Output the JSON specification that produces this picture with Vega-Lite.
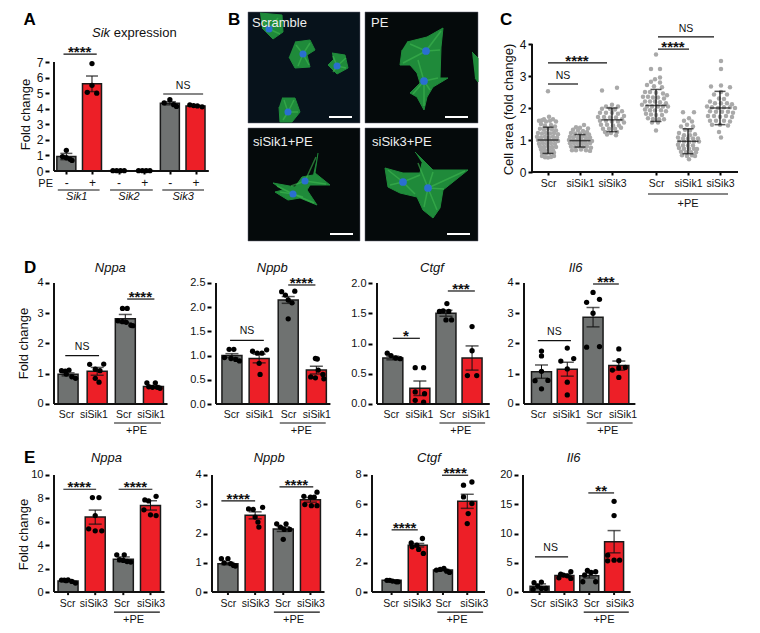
{"$schema":"https://vega.github.io/schema/vega-lite/v6.json","autosize":{"type":"pad"},"padding":{"left":17,"top":10,"right":0,"bottom":0},"background":"white",
"config":{"font":"Liberation Sans","view":{"stroke":null},"axis":{"grid":false,"domain":false,"tickColor":"#000","tickWidth":2,"tickSize":4,"labelColor":"#111","labelFontSize":11,"labelPadding":2,"titleFontSize":13,"titleFontWeight":"normal","titleColor":"#111","labelFlush":false,"labelOverlap":false,"labelBound":false,"titleBaseline":"middle","titleAngle":-90},"bar":{"stroke":"#1a1a1a","strokeWidth":1.5},"point":{"filled":true,"color":"#000","size":28,"opacity":1},"rule":{"color":"#111","strokeWidth":1},"text":{"fontSize":10.5,"color":"#111"},"tick":{"color":"#111","thickness":1.5}},
"datasets":{
"ab":[{"x":13,"y":0.93,"e":0.2,"g":"ctrl"},{"x":40,"y":5.6,"e":0.5,"g":"si"},{"x":68,"y":0.02,"e":0.01,"g":"ctrl"},{"x":95,"y":0.02,"e":0.01,"g":"si"},{"x":122,"y":4.35,"e":0.1,"g":"ctrl"},{"x":149,"y":4.18,"e":0.03,"g":"si"}],
"d1b":[{"x":15,"y":0.98,"e":0.05,"g":"ctrl"},{"x":46,"y":1.08,"e":0.13,"g":"si"},{"x":76,"y":2.82,"e":0.14,"g":"ctrl"},{"x":106,"y":0.58,"e":0.03,"g":"si"}],
"d2b":[{"x":17,"y":1.0,"e":0.04,"g":"ctrl"},{"x":46,"y":0.94,"e":0.09,"g":"si"},{"x":77,"y":2.15,"e":0.07,"g":"ctrl"},{"x":107,"y":0.7,"e":0.08,"g":"si"}],
"d3b":[{"x":17,"y":0.76,"e":0.03,"g":"ctrl"},{"x":46,"y":0.26,"e":0.12,"g":"si"},{"x":74,"y":1.5,"e":0.05,"g":"ctrl"},{"x":102,"y":0.76,"e":0.2,"g":"si"}],
"d4b":[{"x":19,"y":1.07,"e":0.22,"g":"ctrl"},{"x":47,"y":1.15,"e":0.23,"g":"si"},{"x":75,"y":2.87,"e":0.32,"g":"ctrl"},{"x":103,"y":1.27,"e":0.15,"g":"si"}],
"e1b":[{"x":15,"y":0.95,"e":0.04,"g":"ctrl"},{"x":44,"y":6.4,"e":0.6,"g":"si"},{"x":74,"y":2.8,"e":0.2,"g":"ctrl"},{"x":103,"y":7.4,"e":0.4,"g":"si"}],
"e2b":[{"x":17,"y":0.97,"e":0.04,"g":"ctrl"},{"x":46,"y":2.62,"e":0.12,"g":"si"},{"x":76,"y":2.15,"e":0.08,"g":"ctrl"},{"x":105,"y":3.15,"e":0.08,"g":"si"}],
"e3b":[{"x":21,"y":0.8,"e":0.02,"g":"ctrl"},{"x":49,"y":3.2,"e":0.12,"g":"si"},{"x":76,"y":1.5,"e":0.05,"g":"ctrl"},{"x":102,"y":6.2,"e":0.48,"g":"si"}],
"e4b":[{"x":18,"y":1.0,"e":0.4,"g":"ctrl"},{"x":45,"y":2.85,"e":0.2,"g":"si"},{"x":72,"y":2.8,"e":0.4,"g":"ctrl"},{"x":99,"y":8.6,"e":1.9,"g":"si"}]
},
"spacing":0,"bounds":"full","center":false,
"vconcat":[
{"spacing":0,"bounds":"flush","center":false,"hconcat":[
{"width":199,"height":238,"encoding":{"x":{"field":"x","type":"quantitative","scale":{"domain":[0,199],"nice":false},"axis":{"title":null,"values":[13,40,68,95,122,149],"labelExpr":"indexof([13,68,122],datum.value)>=0?'-':'+'","offset":-79,"tickSize":3,"labelPadding":3,"labelFontSize":12}},"y":{"field":"y","type":"quantitative","scale":{"domain":[-5.073,10.211],"nice":false},"axis":{"values":[0,1,2,3,4,5,6,7],"title":"Fold change","titleX":-24,"titleY":102,"labelFontSize":12}}},
"layer":[
{"data":{"name":"ab"},"mark":{"type":"bar","orient":"vertical","size":19},"encoding":{"color":{"field":"g","type":"nominal","scale":{"domain":["ctrl","si"],"range":["#6f7271","#ed1f27"]},"legend":null}}},
{"data":{"values":[{"x":0,"x2":163,"y":0,"y2":0},{"x":0,"x2":0,"y":0,"y2":7}]},"mark":{"type":"rule","strokeWidth":2},"encoding":{"x2":{"field":"x2"},"y2":{"field":"y2"}}},
{"data":{"name":"ab"},"mark":{"type":"errorbar","ticks":{"size":12,"color":"#111"},"rule":{"color":"#111"}},"encoding":{"yError":{"field":"e"}}},
{"data":{"values":[{"x":9,"y":0.93},{"x":13,"y":1.33},{"x":13,"y":0.85},{"x":17,"y":0.75},{"x":19,"y":0.68},{"x":40,"y":6.9},{"x":40,"y":5.5},{"x":35,"y":5.05},{"x":45,"y":5.0},{"x":62,"y":0.02},{"x":66,"y":0.02},{"x":70,"y":0.02},{"x":74,"y":0.02},{"x":89,"y":0.02},{"x":93,"y":0.02},{"x":97,"y":0.02},{"x":101,"y":0.02},{"x":116,"y":4.37},{"x":122,"y":4.58},{"x":126,"y":4.26},{"x":129,"y":4.15},{"x":143,"y":4.25},{"x":147,"y":4.2},{"x":151,"y":4.18},{"x":156,"y":4.12}]},"mark":{"type":"point"}},
{"data":{"values":[{"x":10,"x2":45,"y":7.51},{"x":115,"x2":157,"y":4.945},{"x":4,"x2":48,"y":-1.22},{"x":59,"x2":104,"y":-1.22},{"x":114,"x2":158,"y":-1.22}]},"mark":{"type":"rule","strokeWidth":1.2},"encoding":{"x2":{"field":"x2"}}},
{"data":{"values":[{"x":27,"y":7.51,"t":"****"}]},"mark":{"type":"text","fontSize":15,"fontWeight":"bold","dy":-2},"encoding":{"text":{"field":"t"}}},
{"data":{"values":[{"x":136,"y":4.945,"t":"NS"}]},"mark":{"type":"text","dy":-8},"encoding":{"text":{"field":"t"}}},
{"data":{"values":[{"x":24,"y":-1.67,"t":"Sik1"},{"x":79,"y":-1.67,"t":"Sik2"},{"x":136,"y":-1.67,"t":"Sik3"}]},"mark":{"type":"text","fontStyle":"italic","fontSize":11},"encoding":{"text":{"field":"t"}}},
{"data":{"values":[{"x":-1,"y":-0.82,"t":"PE"}]},"mark":{"type":"text","align":"right","fontSize":11},"encoding":{"text":{"field":"t"}}},
{"data":{"values":[{"x":40,"y":8.86,"t":"Sik"}]},"mark":{"type":"text","align":"left","fontStyle":"italic","fontSize":13},"encoding":{"text":{"field":"t"}}},
{"data":{"values":[{"x":63,"y":8.86,"t":"expression"}]},"mark":{"type":"text","align":"left","fontSize":13},"encoding":{"text":{"field":"t"}}},
{"data":{"values":[{"x":-32,"y":9.7,"t":"A"}]},"mark":{"type":"text","align":"left","fontSize":17,"fontWeight":"bold","color":"#000"},"encoding":{"text":{"field":"t"}}}
]},
{"width":117,"height":238,"encoding":{"x":{"field":"x","type":"quantitative","scale":{"domain":[248,365],"nice":false},"axis":null},"y":{"field":"y","type":"quantitative","scale":{"domain":[250,12],"nice":false},"axis":null}},
"layer":[
{"data":{"values":[{"x":248,"x2":360,"y":12,"y2":123}]},"mark":{"type":"rect","fill":"#07121b","stroke":"#667","strokeWidth":0.5},"encoding":{"x2":{"field":"x2"},"y2":{"field":"y2"}}},
{"data":{"values":[{"x":248,"x2":360,"y":128,"y2":241}]},"mark":{"type":"rect","fill":"#050a0b","stroke":"#667","strokeWidth":0.5},"encoding":{"x2":{"field":"x2"},"y2":{"field":"y2"}}},
{"data":{"values":[{"c":1,"i":1,"x":260,"y":13},{"c":1,"i":2,"x":282,"y":15},{"c":1,"i":3,"x":283,"y":32},{"c":1,"i":4,"x":273,"y":39},{"c":1,"i":5,"x":262,"y":28},{"c":2,"i":1,"x":295,"y":42},{"c":2,"i":2,"x":310,"y":40},{"c":2,"i":3,"x":315,"y":50},{"c":2,"i":4,"x":307,"y":55},{"c":2,"i":5,"x":310,"y":67},{"c":2,"i":6,"x":295,"y":68},{"c":2,"i":7,"x":289,"y":57},{"c":3,"i":1,"x":332,"y":53},{"c":3,"i":2,"x":345,"y":55},{"c":3,"i":3,"x":348,"y":68},{"c":3,"i":4,"x":337,"y":74},{"c":3,"i":5,"x":328,"y":65},{"c":3,"i":6,"x":333,"y":60},{"c":4,"i":1,"x":282,"y":98},{"c":4,"i":2,"x":295,"y":98},{"c":4,"i":3,"x":300,"y":112},{"c":4,"i":4,"x":292,"y":122},{"c":4,"i":5,"x":280,"y":122},{"c":4,"i":6,"x":279,"y":107},{"c":5,"i":1,"x":318,"y":153},{"c":5,"i":2,"x":315,"y":173},{"c":5,"i":3,"x":330,"y":185},{"c":5,"i":4,"x":310,"y":185},{"c":5,"i":5,"x":307,"y":190},{"c":5,"i":6,"x":317,"y":205},{"c":5,"i":7,"x":300,"y":198},{"c":5,"i":8,"x":288,"y":200},{"c":5,"i":9,"x":275,"y":192},{"c":5,"i":10,"x":283,"y":190},{"c":5,"i":11,"x":273,"y":183},{"c":5,"i":12,"x":295,"y":187},{"c":5,"i":13,"x":302,"y":177},{"c":5,"i":14,"x":313,"y":175}]},"mark":{"type":"line","fill":"#1f8a3a","stroke":"#1f8a3a","strokeWidth":1,"strokeJoin":"round"},"encoding":{"detail":{"field":"c"},"order":{"field":"i"}}},
{"data":{"values":[{"x":269,"y":29,"x2":262,"y2":20},{"x":269,"y":29,"x2":278,"y2":18},{"x":269,"y":29,"x2":280,"y2":34},{"x":303,"y":54,"x2":296,"y2":45},{"x":303,"y":54,"x2":310,"y2":43},{"x":303,"y":54,"x2":298,"y2":66},{"x":303,"y":54,"x2":309,"y2":65},{"x":337,"y":66,"x2":333,"y2":56},{"x":337,"y":66,"x2":346,"y2":58},{"x":337,"y":66,"x2":346,"y2":68},{"x":337,"y":66,"x2":333,"y2":72},{"x":288,"y":112,"x2":284,"y2":100},{"x":288,"y":112,"x2":294,"y2":100},{"x":288,"y":112,"x2":298,"y2":112},{"x":288,"y":112,"x2":283,"y2":120},{"x":305,"y":181,"x2":316,"y2":157},{"x":305,"y":181,"x2":326,"y2":184},{"x":305,"y":181,"x2":291,"y2":186},{"x":293,"y":194,"x2":277,"y2":186},{"x":293,"y":194,"x2":280,"y2":192},{"x":293,"y":194,"x2":314,"y2":203},{"x":293,"y":194,"x2":303,"y2":197}]},"mark":{"type":"rule","color":"#3fb850","strokeWidth":1.5,"opacity":0.6},"encoding":{"x2":{"field":"x2"},"y2":{"field":"y2"}}},
{"data":{"values":[{"x":269,"y":29},{"x":303,"y":54},{"x":337,"y":66},{"x":288,"y":112},{"x":305,"y":181},{"x":293,"y":194}]},"mark":{"type":"point","size":50,"color":"#2a6fd0"}},
{"data":{"values":[{"x":329,"x2":352,"y":117},{"x":330,"x2":353,"y":234}]},"mark":{"type":"rule","color":"#fff","strokeWidth":2},"encoding":{"x2":{"field":"x2"}}},
{"data":{"values":[{"x":252,"y":23,"t":"Scramble"},{"x":253,"y":142,"t":"siSik1+PE"}]},"mark":{"type":"text","align":"left","fontSize":13,"color":"#eee"},"encoding":{"text":{"field":"t"}}},
{"data":{"values":[{"x":228,"y":20,"t":"B"}]},"mark":{"type":"text","align":"left","fontSize":17,"fontWeight":"bold","color":"#000"},"encoding":{"text":{"field":"t"}}}
]},
{"width":167,"height":238,"encoding":{"x":{"field":"x","type":"quantitative","scale":{"domain":[365,532],"nice":false},"axis":null},"y":{"field":"y","type":"quantitative","scale":{"domain":[250,12],"nice":false},"axis":null}},
"layer":[
{"data":{"values":[{"x":365,"x2":478,"y":12,"y2":123},{"x":365,"x2":478,"y":128,"y2":241}]},"mark":{"type":"rect","fill":"#050a0b","stroke":"#667","strokeWidth":0.5},"encoding":{"x2":{"field":"x2"},"y2":{"field":"y2"}}},
{"data":{"values":[{"c":1,"i":1,"x":407,"y":42},{"c":1,"i":2,"x":427,"y":37},{"c":1,"i":3,"x":443,"y":28},{"c":1,"i":4,"x":441,"y":47},{"c":1,"i":5,"x":440,"y":78},{"c":1,"i":6,"x":448,"y":78},{"c":1,"i":7,"x":433,"y":87},{"c":1,"i":8,"x":427,"y":97},{"c":1,"i":9,"x":424,"y":110},{"c":1,"i":10,"x":417,"y":97},{"c":1,"i":11,"x":410,"y":93},{"c":1,"i":12,"x":420,"y":83},{"c":1,"i":13,"x":417,"y":73},{"c":1,"i":14,"x":410,"y":65},{"c":1,"i":15,"x":400,"y":65},{"c":1,"i":16,"x":402,"y":50},{"c":2,"i":1,"x":472,"y":52},{"c":2,"i":2,"x":478,"y":58},{"c":2,"i":3,"x":478,"y":82},{"c":2,"i":4,"x":475,"y":78},{"c":3,"i":1,"x":415,"y":152},{"c":3,"i":2,"x":433,"y":170},{"c":3,"i":3,"x":468,"y":170},{"c":3,"i":4,"x":443,"y":190},{"c":3,"i":5,"x":440,"y":208},{"c":3,"i":6,"x":433,"y":218},{"c":3,"i":7,"x":423,"y":210},{"c":3,"i":8,"x":417,"y":197},{"c":3,"i":9,"x":400,"y":193},{"c":3,"i":10,"x":388,"y":187},{"c":3,"i":11,"x":385,"y":168},{"c":3,"i":12,"x":403,"y":173},{"c":3,"i":13,"x":420,"y":173},{"c":3,"i":14,"x":422,"y":163}]},"mark":{"type":"line","fill":"#1f8a3a","stroke":"#1f8a3a","strokeWidth":1,"strokeJoin":"round"},"encoding":{"detail":{"field":"c"},"order":{"field":"i"}}},
{"data":{"values":[{"x":426,"y":51,"x2":410,"y2":44},{"x":426,"y":51,"x2":441,"y2":31},{"x":426,"y":51,"x2":403,"y2":63},{"x":426,"y":51,"x2":440,"y2":50},{"x":424,"y":81,"x2":438,"y2":78},{"x":424,"y":81,"x2":424,"y2":106},{"x":424,"y":81,"x2":413,"y2":94},{"x":424,"y":81,"x2":418,"y2":60},{"x":424,"y":81,"x2":430,"y2":90},{"x":403,"y":182,"x2":388,"y2":170},{"x":403,"y":182,"x2":420,"y2":175},{"x":403,"y":182,"x2":390,"y2":185},{"x":403,"y":182,"x2":415,"y2":194},{"x":428,"y":188,"x2":465,"y2":171},{"x":428,"y":188,"x2":437,"y2":210},{"x":428,"y":188,"x2":418,"y2":163},{"x":428,"y":188,"x2":424,"y2":207},{"x":428,"y":188,"x2":444,"y2":189},{"x":428,"y":188,"x2":433,"y2":172}]},"mark":{"type":"rule","color":"#3fb850","strokeWidth":1.5,"opacity":0.6},"encoding":{"x2":{"field":"x2"},"y2":{"field":"y2"}}},
{"data":{"values":[{"x":426,"y":51},{"x":424,"y":81},{"x":403,"y":182},{"x":428,"y":188}]},"mark":{"type":"point","size":60,"color":"#2a6fd0"}},
{"data":{"values":[{"x":445,"x2":468,"y":117},{"x":447,"x2":470,"y":234}]},"mark":{"type":"rule","color":"#fff","strokeWidth":2},"encoding":{"x2":{"field":"x2"}}},
{"data":{"values":[{"x":371,"y":23,"t":"PE"},{"x":372,"y":142,"t":"siSik3+PE"}]},"mark":{"type":"text","align":"left","fontSize":13,"color":"#eee"},"encoding":{"text":{"field":"t"}}}
]},
{"width":208,"height":238,"encoding":{"x":{"field":"x","type":"quantitative","scale":{"domain":[0,208],"nice":false},"axis":{"title":null,"values":[16,48,80,124,156,188],"labelExpr":"indexof([16,124],datum.value)>=0?'Scr':indexof([48,156],datum.value)>=0?'siSik1':'siSik3'","offset":-78,"tickSize":3,"labelPadding":3,"labelFontSize":10.5}},"y":{"field":"y","type":"quantitative","scale":{"domain":[-2.4375,5],"nice":false},"axis":{"values":[0,1,2,3,4],"title":"Cell area (fold change)","titleX":-24,"titleY":97,"labelFontSize":12}}},
"layer":[
{"data":{"values":[{"x":0,"x2":206,"y":0,"y2":0},{"x":0,"x2":0,"y":0,"y2":4}]},"mark":{"type":"rule","strokeWidth":2},"encoding":{"x2":{"field":"x2"},"y2":{"field":"y2"}}},
{"data":{"values":[{"x":16,"y":2.52},{"x":17,"y":1.73},{"x":12,"y":1.65},{"x":21,"y":1.65},{"x":7,"y":1.6},{"x":10,"y":1.62},{"x":14,"y":1.58},{"x":18,"y":1.6},{"x":24,"y":1.58},{"x":9,"y":1.5},{"x":13,"y":1.45},{"x":19,"y":1.47},{"x":23,"y":1.42},{"x":8,"y":1.35},{"x":12,"y":1.32},{"x":16,"y":1.35},{"x":20,"y":1.33},{"x":24,"y":1.3},{"x":6,"y":1.22},{"x":10,"y":1.2},{"x":14,"y":1.22},{"x":18,"y":1.2},{"x":22,"y":1.22},{"x":26,"y":1.18},{"x":5,"y":1.1},{"x":9,"y":1.08},{"x":13,"y":1.1},{"x":17,"y":1.08},{"x":21,"y":1.1},{"x":25,"y":1.08},{"x":6,"y":1.0},{"x":10,"y":0.98},{"x":14,"y":1.0},{"x":18,"y":0.98},{"x":22,"y":1.0},{"x":26,"y":0.97},{"x":7,"y":0.88},{"x":11,"y":0.9},{"x":15,"y":0.88},{"x":19,"y":0.9},{"x":23,"y":0.88},{"x":8,"y":0.8},{"x":12,"y":0.78},{"x":16,"y":0.8},{"x":20,"y":0.78},{"x":24,"y":0.78},{"x":9,"y":0.7},{"x":13,"y":0.68},{"x":17,"y":0.7},{"x":21,"y":0.68},{"x":10,"y":0.6},{"x":14,"y":0.58},{"x":18,"y":0.6},{"x":22,"y":0.6},{"x":10,"y":0.5},{"x":13,"y":0.46},{"x":16,"y":0.45},{"x":19,"y":0.47},{"x":22,"y":0.5},
{"x":52,"y":1.47},{"x":44,"y":1.4},{"x":48,"y":1.38},{"x":56,"y":1.36},{"x":41,"y":1.32},{"x":46,"y":1.3},{"x":51,"y":1.28},{"x":55,"y":1.25},{"x":39,"y":1.22},{"x":43,"y":1.2},{"x":48,"y":1.2},{"x":53,"y":1.18},{"x":57,"y":1.17},{"x":38,"y":1.1},{"x":42,"y":1.1},{"x":46,"y":1.08},{"x":50,"y":1.1},{"x":54,"y":1.08},{"x":58,"y":1.08},{"x":37,"y":1.0},{"x":41,"y":1.0},{"x":45,"y":0.98},{"x":49,"y":1.0},{"x":53,"y":0.98},{"x":57,"y":1.0},{"x":60,"y":0.97},{"x":38,"y":0.9},{"x":42,"y":0.9},{"x":46,"y":0.88},{"x":50,"y":0.9},{"x":54,"y":0.88},{"x":58,"y":0.9},{"x":39,"y":0.8},{"x":43,"y":0.78},{"x":47,"y":0.8},{"x":51,"y":0.78},{"x":55,"y":0.8},{"x":59,"y":0.76},{"x":40,"y":0.68},{"x":44,"y":0.68},{"x":49,"y":0.7},{"x":54,"y":0.68},{"x":58,"y":0.66},
{"x":85,"y":2.63},{"x":70,"y":2.55},{"x":80,"y":2.1},{"x":74,"y":2.05},{"x":86,"y":2.05},{"x":70,"y":1.98},{"x":78,"y":1.98},{"x":83,"y":1.95},{"x":90,"y":1.9},{"x":68,"y":1.85},{"x":74,"y":1.85},{"x":80,"y":1.85},{"x":86,"y":1.82},{"x":92,"y":1.75},{"x":66,"y":1.72},{"x":72,"y":1.72},{"x":78,"y":1.7},{"x":84,"y":1.7},{"x":90,"y":1.65},{"x":68,"y":1.6},{"x":74,"y":1.6},{"x":80,"y":1.58},{"x":86,"y":1.58},{"x":92,"y":1.55},{"x":69,"y":1.48},{"x":75,"y":1.48},{"x":81,"y":1.45},{"x":87,"y":1.45},{"x":71,"y":1.35},{"x":77,"y":1.35},{"x":83,"y":1.35},{"x":89,"y":1.38},{"x":73,"y":1.25},{"x":79,"y":1.22},{"x":85,"y":1.25},{"x":75,"y":1.17},{"x":84,"y":1.15},
{"x":124,"y":3.67},{"x":119,"y":3.22},{"x":128,"y":3.22},{"x":128,"y":2.95},{"x":123,"y":2.9},{"x":119,"y":2.82},{"x":128,"y":2.8},{"x":115,"y":2.72},{"x":122,"y":2.68},{"x":130,"y":2.65},{"x":113,"y":2.5},{"x":118,"y":2.5},{"x":124,"y":2.48},{"x":131,"y":2.45},{"x":135,"y":2.4},{"x":111,"y":2.35},{"x":116,"y":2.35},{"x":121,"y":2.33},{"x":126,"y":2.33},{"x":132,"y":2.3},{"x":113,"y":2.2},{"x":118,"y":2.2},{"x":123,"y":2.2},{"x":128,"y":2.18},{"x":134,"y":2.15},{"x":110,"y":2.1},{"x":115,"y":2.05},{"x":120,"y":2.05},{"x":126,"y":2.05},{"x":131,"y":2.05},{"x":136,"y":2.05},{"x":113,"y":1.95},{"x":118,"y":1.93},{"x":123,"y":1.92},{"x":129,"y":1.93},{"x":134,"y":1.9},{"x":114,"y":1.82},{"x":119,"y":1.8},{"x":124,"y":1.78},{"x":130,"y":1.78},{"x":116,"y":1.68},{"x":121,"y":1.66},{"x":127,"y":1.65},{"x":132,"y":1.65},{"x":120,"y":1.55},{"x":126,"y":1.55},{"x":124,"y":1.3},
{"x":151,"y":1.87},{"x":162,"y":1.87},{"x":157,"y":1.68},{"x":152,"y":1.6},{"x":160,"y":1.58},{"x":155,"y":1.48},{"x":149,"y":1.42},{"x":161,"y":1.42},{"x":153,"y":1.32},{"x":158,"y":1.3},{"x":147,"y":1.22},{"x":152,"y":1.15},{"x":158,"y":1.15},{"x":163,"y":1.18},{"x":146,"y":1.08},{"x":151,"y":1.05},{"x":156,"y":1.05},{"x":161,"y":1.05},{"x":166,"y":1.05},{"x":147,"y":0.95},{"x":152,"y":0.95},{"x":157,"y":0.93},{"x":162,"y":0.95},{"x":167,"y":0.95},{"x":146,"y":0.85},{"x":151,"y":0.83},{"x":156,"y":0.83},{"x":161,"y":0.83},{"x":147,"y":0.75},{"x":152,"y":0.73},{"x":157,"y":0.73},{"x":162,"y":0.73},{"x":165,"y":0.72},{"x":149,"y":0.63},{"x":154,"y":0.62},{"x":159,"y":0.62},{"x":164,"y":0.62},{"x":150,"y":0.52},{"x":155,"y":0.5},{"x":160,"y":0.52},{"x":163,"y":0.5},{"x":157,"y":0.4},
{"x":189,"y":3.47},{"x":189,"y":3.22},{"x":179,"y":2.67},{"x":189,"y":2.7},{"x":198,"y":2.65},{"x":189,"y":2.5},{"x":182,"y":2.42},{"x":195,"y":2.42},{"x":187,"y":2.3},{"x":192,"y":2.28},{"x":178,"y":2.2},{"x":183,"y":2.15},{"x":189,"y":2.15},{"x":195,"y":2.15},{"x":200,"y":2.12},{"x":175,"y":2.05},{"x":180,"y":2.02},{"x":186,"y":2.0},{"x":192,"y":2.02},{"x":198,"y":2.02},{"x":203,"y":2.0},{"x":178,"y":1.9},{"x":184,"y":1.88},{"x":190,"y":1.88},{"x":196,"y":1.88},{"x":201,"y":1.85},{"x":176,"y":1.75},{"x":182,"y":1.75},{"x":188,"y":1.73},{"x":194,"y":1.75},{"x":200,"y":1.72},{"x":178,"y":1.6},{"x":184,"y":1.6},{"x":192,"y":1.6},{"x":198,"y":1.58},{"x":180,"y":1.48},{"x":188,"y":1.48},{"x":196,"y":1.45},{"x":187,"y":1.25},{"x":189,"y":1.08}]},"mark":{"type":"point","color":"#a9a9a9","size":20}},
{"data":{"name":"csd","values":[{"x":16,"m":1.0,"lo":0.58,"hi":1.4},{"x":48,"m":0.98,"lo":0.78,"hi":1.17},{"x":80,"m":1.63,"lo":1.26,"hi":2.0},{"x":124,"m":2.08,"lo":1.58,"hi":2.58},{"x":156,"m":0.96,"lo":0.57,"hi":1.35},{"x":188,"m":2.0,"lo":1.48,"hi":2.52}]},"mark":{"type":"rule","strokeWidth":1.3},"encoding":{"y":{"field":"lo","type":"quantitative"},"y2":{"field":"hi"}}},
{"data":{"name":"csd"},"mark":{"type":"tick","orient":"horizontal","size":11},"encoding":{"y":{"field":"lo","type":"quantitative"}}},
{"data":{"name":"csd"},"mark":{"type":"tick","orient":"horizontal","size":11},"encoding":{"y":{"field":"hi","type":"quantitative"}}},
{"data":{"name":"csd"},"mark":{"type":"tick","orient":"horizontal","size":21},"encoding":{"y":{"field":"m","type":"quantitative"}}},
{"data":{"values":[{"x":16,"x2":46,"y":2.75},{"x":16,"x2":75,"y":3.41},{"x":126,"x2":157,"y":3.84},{"x":126,"x2":182,"y":4.22},{"x":116,"x2":196,"y":-0.6875}]},"mark":{"type":"rule","strokeWidth":1.2},"encoding":{"x2":{"field":"x2"}}},
{"data":{"values":[{"x":45,"y":3.41,"t":"****"},{"x":141,"y":3.84,"t":"****"}]},"mark":{"type":"text","fontSize":15,"fontWeight":"bold","dy":-2},"encoding":{"text":{"field":"t"}}},
{"data":{"values":[{"x":31,"y":2.75,"t":"NS"},{"x":154,"y":4.22,"t":"NS"}]},"mark":{"type":"text","dy":-8},"encoding":{"text":{"field":"t"}}},
{"data":{"values":[{"x":156,"y":-1.0,"t":"+PE"}]},"mark":{"type":"text","fontSize":11},"encoding":{"text":{"field":"t"}}},
{"data":{"values":[{"x":-32,"y":4.75,"t":"C"}]},"mark":{"type":"text","align":"left","fontSize":17,"fontWeight":"bold","color":"#000"},"encoding":{"text":{"field":"t"}}}
]}
]},
{"spacing":0,"bounds":"flush","center":false,"hconcat":[
{"width":162,"height":195,"encoding":{"x":{"field":"x","type":"quantitative","scale":{"domain":[0,162],"nice":false},"axis":{"title":null,"values":[13,42,74,103],"labelExpr":"indexof([13,74],datum.value)>=0?'Scr':'siSik1'","offset":-41,"ticks":false,"labelPadding":5,"labelFontSize":10.5}},"y":{"field":"y","type":"quantitative","scale":{"domain":[-1.3554,5.0909],"nice":false},"axis":{"values":[0,1,2,3,4],"title":"Fold change","titleX":-26,"titleY":93}}},
"layer":[
{"data":{"name":"d1b"},"mark":{"type":"bar","orient":"vertical","size":20},"encoding":{"color":{"field":"g","type":"nominal","scale":{"domain":["ctrl","si"],"range":["#6f7271","#ed1f27"]},"legend":null}}},
{"data":{"values":[{"x":0,"x2":121,"y":0,"y2":0},{"x":0,"x2":0,"y":0,"y2":4}]},"mark":{"type":"rule","strokeWidth":2},"encoding":{"x2":{"field":"x2"},"y2":{"field":"y2"}}},
{"data":{"name":"d1b"},"mark":{"type":"errorbar","ticks":{"size":13,"color":"#111"},"rule":{"color":"#111"}},"encoding":{"yError":{"field":"e"}}},
{"data":{"values":[{"x":8,"y":1.1},{"x":12,"y":1.09},{"x":16,"y":1.12},{"x":13,"y":0.99},{"x":19,"y":0.9},{"x":23,"y":0.85},{"x":38,"y":1.31},{"x":53,"y":1.32},{"x":44,"y":1.15},{"x":49,"y":1.1},{"x":44,"y":0.85},{"x":48,"y":0.72},{"x":73,"y":3.16},{"x":78,"y":3.16},{"x":68,"y":2.75},{"x":73,"y":2.72},{"x":77,"y":2.7},{"x":82,"y":2.6},{"x":84,"y":2.59},{"x":99,"y":0.7},{"x":108,"y":0.7},{"x":101,"y":0.57},{"x":105,"y":0.55},{"x":110,"y":0.55},{"x":113,"y":0.52}]},"mark":{"type":"point"}},
{"data":{"values":[{"x":12,"x2":48,"y":1.597},{"x":78,"x2":107,"y":3.47},{"x":64,"x2":114,"y":-0.628}]},"mark":{"type":"rule","strokeWidth":1.2},"encoding":{"x2":{"field":"x2"}}},
{"data":{"values":[{"x":92,"y":3.47,"t":"****"}]},"mark":{"type":"text","fontSize":15,"fontWeight":"bold","dy":-2},"encoding":{"text":{"field":"t"}}},
{"data":{"values":[{"x":30,"y":1.597,"t":"NS"}]},"mark":{"type":"text","dy":-9},"encoding":{"text":{"field":"t"}}},
{"data":{"values":[{"x":88,"y":-0.893,"t":"+PE"}]},"mark":{"type":"text","fontSize":11},"encoding":{"text":{"field":"t"}}},
{"data":{"values":[{"x":60,"y":4.5,"t":"Nppa"}]},"mark":{"type":"text","fontStyle":"italic","fontSize":13},"encoding":{"text":{"field":"t"}}},
{"data":{"values":[{"x":-32,"y":4.5,"t":"D"}]},"mark":{"type":"text","align":"left","fontSize":17,"fontWeight":"bold","color":"#000"},"encoding":{"text":{"field":"t"}}}
]},
{"width":161,"height":195,"encoding":{"x":{"field":"x","type":"quantitative","scale":{"domain":[0,161],"nice":false},"axis":{"title":null,"values":[16,46,77,107],"labelExpr":"indexof([16,77],datum.value)>=0?'Scr':'siSik1'","offset":-41,"ticks":false,"labelPadding":5,"labelFontSize":10.5}},"y":{"field":"y","type":"quantitative","scale":{"domain":[-0.8471,3.1818],"nice":false},"axis":{"values":[0,0.5,1,1.5,2,2.5],"format":".1f","title":null}}},
"layer":[
{"data":{"name":"d2b"},"mark":{"type":"bar","orient":"vertical","size":20},"encoding":{"color":{"field":"g","type":"nominal","scale":{"domain":["ctrl","si"],"range":["#6f7271","#ed1f27"]},"legend":null}}},
{"data":{"values":[{"x":0,"x2":122,"y":0,"y2":0},{"x":0,"x2":0,"y":0,"y2":2.5}]},"mark":{"type":"rule","strokeWidth":2},"encoding":{"x2":{"field":"x2"},"y2":{"field":"y2"}}},
{"data":{"name":"d2b"},"mark":{"type":"errorbar","ticks":{"size":13,"color":"#111"},"rule":{"color":"#111"}},"encoding":{"yError":{"field":"e"}}},
{"data":{"values":[{"x":14,"y":1.13},{"x":19,"y":1.13},{"x":9,"y":0.96},{"x":16,"y":0.94},{"x":21,"y":0.92},{"x":25,"y":0.89},{"x":39,"y":1.09},{"x":44,"y":1.05},{"x":49,"y":1.05},{"x":54,"y":1.12},{"x":46,"y":0.84},{"x":47,"y":0.61},{"x":70,"y":2.32},{"x":84,"y":2.33},{"x":74,"y":2.25},{"x":77,"y":2.15},{"x":81,"y":2.09},{"x":77,"y":1.76},{"x":106,"y":0.94},{"x":108,"y":0.93},{"x":101,"y":0.56},{"x":106,"y":0.54},{"x":114,"y":0.61},{"x":115,"y":0.52},{"x":109,"y":0.7}]},"mark":{"type":"point"}},
{"data":{"values":[{"x":15,"x2":51,"y":1.316},{"x":77,"x2":106,"y":2.459},{"x":68,"x2":117,"y":-0.393}]},"mark":{"type":"rule","strokeWidth":1.2},"encoding":{"x2":{"field":"x2"}}},
{"data":{"values":[{"x":91,"y":2.459,"t":"****"}]},"mark":{"type":"text","fontSize":15,"fontWeight":"bold","dy":-2},"encoding":{"text":{"field":"t"}}},
{"data":{"values":[{"x":33,"y":1.316,"t":"NS"}]},"mark":{"type":"text","dy":-9},"encoding":{"text":{"field":"t"}}},
{"data":{"values":[{"x":91,"y":-0.558,"t":"+PE"}]},"mark":{"type":"text","fontSize":11},"encoding":{"text":{"field":"t"}}},
{"data":{"values":[{"x":60,"y":2.81,"t":"Nppb"}]},"mark":{"type":"text","fontStyle":"italic","fontSize":13},"encoding":{"text":{"field":"t"}}}
]},
{"width":147,"height":195,"encoding":{"x":{"field":"x","type":"quantitative","scale":{"domain":[0,147],"nice":false},"axis":{"title":null,"values":[15,45,75,106],"labelExpr":"indexof([15,75],datum.value)>=0?'Scr':'siSik1'","offset":-41,"ticks":false,"labelPadding":5,"labelFontSize":10.5}},"y":{"field":"y","type":"quantitative","scale":{"domain":[-0.6777,2.5455],"nice":false},"axis":{"values":[0,0.5,1,1.5,2],"format":".1f","title":null}}},
"layer":[
{"data":{"name":"d3b"},"mark":{"type":"bar","orient":"vertical","size":20},"encoding":{"color":{"field":"g","type":"nominal","scale":{"domain":["ctrl","si"],"range":["#6f7271","#ed1f27"]},"legend":null}}},
{"data":{"values":[{"x":0,"x2":121,"y":0,"y2":0},{"x":0,"x2":0,"y":0,"y2":2}]},"mark":{"type":"rule","strokeWidth":2},"encoding":{"x2":{"field":"x2"},"y2":{"field":"y2"}}},
{"data":{"name":"d3b"},"mark":{"type":"errorbar","ticks":{"size":13,"color":"#111"},"rule":{"color":"#111"}},"encoding":{"yError":{"field":"e"}}},
{"data":{"values":[{"x":11,"y":0.84},{"x":15,"y":0.8},{"x":20,"y":0.76},{"x":25,"y":0.75},{"x":41,"y":0.6},{"x":50,"y":0.6},{"x":41,"y":0.2},{"x":51,"y":0.17},{"x":41,"y":0.06},{"x":50,"y":0.03},{"x":75,"y":1.66},{"x":67,"y":1.53},{"x":71,"y":1.54},{"x":77,"y":1.53},{"x":74,"y":1.39},{"x":80,"y":1.39},{"x":102,"y":1.28},{"x":102,"y":0.88},{"x":97,"y":0.47},{"x":107,"y":0.47}]},"mark":{"type":"point"}},
{"data":{"values":[{"x":17,"x2":46,"y":1.086},{"x":76,"x2":105,"y":1.868},{"x":67,"x2":116,"y":-0.314}]},"mark":{"type":"rule","strokeWidth":1.2},"encoding":{"x2":{"field":"x2"}}},
{"data":{"values":[{"x":31,"y":1.086,"t":"*"},{"x":90,"y":1.868,"t":"***"}]},"mark":{"type":"text","fontSize":15,"fontWeight":"bold","dy":-2},"encoding":{"text":{"field":"t"}}},
{"data":{"values":[{"x":90,"y":-0.446,"t":"+PE"}]},"mark":{"type":"text","fontSize":11},"encoding":{"text":{"field":"t"}}},
{"data":{"values":[{"x":59,"y":2.248,"t":"Ctgf"}]},"mark":{"type":"text","fontStyle":"italic","fontSize":13},"encoding":{"text":{"field":"t"}}}
]},
{"width":126,"height":195,"encoding":{"x":{"field":"x","type":"quantitative","scale":{"domain":[0,126],"nice":false},"axis":{"title":null,"values":[15,46,76,107],"labelExpr":"indexof([15,76],datum.value)>=0?'Scr':'siSik1'","offset":-41,"ticks":false,"labelPadding":5,"labelFontSize":10.5}},"y":{"field":"y","type":"quantitative","scale":{"domain":[-1.3554,5.0909],"nice":false},"axis":{"values":[0,1,2,3,4],"title":null}}},
"layer":[
{"data":{"name":"d4b"},"mark":{"type":"bar","orient":"vertical","size":20},"encoding":{"color":{"field":"g","type":"nominal","scale":{"domain":["ctrl","si"],"range":["#6f7271","#ed1f27"]},"legend":null}}},
{"data":{"values":[{"x":0,"x2":121,"y":0,"y2":0},{"x":0,"x2":0,"y":0,"y2":4}]},"mark":{"type":"rule","strokeWidth":2},"encoding":{"x2":{"field":"x2"},"y2":{"field":"y2"}}},
{"data":{"name":"d4b"},"mark":{"type":"errorbar","ticks":{"size":13,"color":"#111"},"rule":{"color":"#111"}},"encoding":{"yError":{"field":"e"}}},
{"data":{"values":[{"x":19,"y":1.75},{"x":19,"y":1.59},{"x":19,"y":1.08},{"x":12,"y":0.77},{"x":26,"y":0.78},{"x":19,"y":0.5},{"x":47,"y":1.85},{"x":40,"y":1.42},{"x":54,"y":1.5},{"x":47,"y":1.16},{"x":47,"y":0.72},{"x":47,"y":0.3},{"x":75,"y":3.69},{"x":68,"y":3.36},{"x":82,"y":3.46},{"x":75,"y":3.0},{"x":68,"y":1.88},{"x":82,"y":1.9},{"x":103,"y":1.82},{"x":103,"y":1.43},{"x":96,"y":1.12},{"x":110,"y":1.21},{"x":103,"y":0.88},{"x":103,"y":1.19}]},"mark":{"type":"point"}},
{"data":{"values":[{"x":15,"x2":51,"y":2.093},{"x":75,"x2":103,"y":3.967},{"x":68,"x2":118,"y":-0.628}]},"mark":{"type":"rule","strokeWidth":1.2},"encoding":{"x2":{"field":"x2"}}},
{"data":{"values":[{"x":89,"y":3.967,"t":"***"}]},"mark":{"type":"text","fontSize":15,"fontWeight":"bold","dy":-2},"encoding":{"text":{"field":"t"}}},
{"data":{"values":[{"x":33,"y":2.093,"t":"NS"}]},"mark":{"type":"text","dy":-9},"encoding":{"text":{"field":"t"}}},
{"data":{"values":[{"x":91,"y":-0.893,"t":"+PE"}]},"mark":{"type":"text","fontSize":11},"encoding":{"text":{"field":"t"}}},
{"data":{"values":[{"x":56,"y":4.5,"t":"Il6"}]},"mark":{"type":"text","fontStyle":"italic","fontSize":13},"encoding":{"text":{"field":"t"}}}
]}
]},
{"spacing":0,"bounds":"flush","center":false,"hconcat":[
{"width":158,"height":188,"encoding":{"x":{"field":"x","type":"quantitative","scale":{"domain":[0,158],"nice":false},"axis":{"title":null,"values":[14,42,72,103],"labelExpr":"indexof([14,72],datum.value)>=0?'Scr':'siSik3'","offset":-41,"ticks":false,"labelPadding":6,"labelFontSize":10.5}},"y":{"field":"y","type":"quantitative","scale":{"domain":[-3.495,12.558],"nice":false},"axis":{"values":[0,2,4,6,8,10],"title":"Fold change","titleX":-26,"titleY":89}}},
"layer":[
{"data":{"name":"e1b"},"mark":{"type":"bar","orient":"vertical","size":20},"encoding":{"color":{"field":"g","type":"nominal","scale":{"domain":["ctrl","si"],"range":["#6f7271","#ed1f27"]},"legend":null}}},
{"data":{"values":[{"x":0,"x2":118,"y":0,"y2":0},{"x":0,"x2":0,"y":0,"y2":10},{"x":15,"x2":15,"y":0,"y2":-0.26},{"x":44,"x2":44,"y":0,"y2":-0.26},{"x":74,"x2":74,"y":0,"y2":-0.26},{"x":103,"x2":103,"y":0,"y2":-0.26}]},"mark":{"type":"rule","strokeWidth":2},"encoding":{"x2":{"field":"x2"},"y2":{"field":"y2"}}},
{"data":{"name":"e1b"},"mark":{"type":"errorbar","ticks":{"size":13,"color":"#111"},"rule":{"color":"#111"}},"encoding":{"yError":{"field":"e"}}},
{"data":{"values":[{"x":8,"y":1.02},{"x":11,"y":1.02},{"x":15,"y":1.05},{"x":19,"y":0.91},{"x":23,"y":0.77},{"x":13,"y":0.97},{"x":41,"y":8.07},{"x":48,"y":8.07},{"x":44,"y":6.53},{"x":37,"y":5.4},{"x":44,"y":5.23},{"x":51,"y":5.23},{"x":67,"y":3.18},{"x":75,"y":3.18},{"x":70,"y":2.76},{"x":74,"y":2.7},{"x":78,"y":2.61},{"x":82,"y":2.56},{"x":97,"y":7.87},{"x":101,"y":7.78},{"x":109,"y":8.18},{"x":96,"y":7.02},{"x":103,"y":6.6},{"x":109,"y":6.53}]},"mark":{"type":"point"}},
{"data":{"values":[{"x":10,"x2":45,"y":8.78},{"x":69,"x2":105,"y":8.78},{"x":64,"x2":113,"y":-1.705}]},"mark":{"type":"rule","strokeWidth":1.2},"encoding":{"x2":{"field":"x2"}}},
{"data":{"values":[{"x":27,"y":8.78,"t":"****"},{"x":87,"y":8.78,"t":"****"}]},"mark":{"type":"text","fontSize":15,"fontWeight":"bold","dy":-2},"encoding":{"text":{"field":"t"}}},
{"data":{"values":[{"x":85,"y":-2.387,"t":"+PE"}]},"mark":{"type":"text","fontSize":11},"encoding":{"text":{"field":"t"}}},
{"data":{"values":[{"x":56,"y":11.42,"t":"Nppa"}]},"mark":{"type":"text","fontStyle":"italic","fontSize":13},"encoding":{"text":{"field":"t"}}},
{"data":{"values":[{"x":-32,"y":11.42,"t":"E"}]},"mark":{"type":"text","align":"left","fontSize":17,"fontWeight":"bold","color":"#000"},"encoding":{"text":{"field":"t"}}}
]},
{"width":160,"height":188,"encoding":{"x":{"field":"x","type":"quantitative","scale":{"domain":[0,160],"nice":false},"axis":{"title":null,"values":[17,46,75,105],"labelExpr":"indexof([17,75],datum.value)>=0?'Scr':'siSik3'","offset":-41,"ticks":false,"labelPadding":6,"labelFontSize":10.5}},"y":{"field":"y","type":"quantitative","scale":{"domain":[-1.398,5.023],"nice":false},"axis":{"values":[0,1,2,3,4],"title":null}}},
"layer":[
{"data":{"name":"e2b"},"mark":{"type":"bar","orient":"vertical","size":20},"encoding":{"color":{"field":"g","type":"nominal","scale":{"domain":["ctrl","si"],"range":["#6f7271","#ed1f27"]},"legend":null}}},
{"data":{"values":[{"x":0,"x2":120,"y":0,"y2":0},{"x":0,"x2":0,"y":0,"y2":4},{"x":17,"x2":17,"y":0,"y2":-0.1},{"x":46,"x2":46,"y":0,"y2":-0.1},{"x":76,"x2":76,"y":0,"y2":-0.1},{"x":105,"x2":105,"y":0,"y2":-0.1}]},"mark":{"type":"rule","strokeWidth":2},"encoding":{"x2":{"field":"x2"},"y2":{"field":"y2"}}},
{"data":{"name":"e2b"},"mark":{"type":"errorbar","ticks":{"size":13,"color":"#111"},"rule":{"color":"#111"}},"encoding":{"yError":{"field":"e"}}},
{"data":{"values":[{"x":10,"y":1.14},{"x":17,"y":1.14},{"x":13,"y":1.0},{"x":20,"y":0.97},{"x":23,"y":0.91},{"x":25,"y":0.89},{"x":39,"y":2.84},{"x":44,"y":2.82},{"x":54,"y":2.89},{"x":46,"y":2.56},{"x":49,"y":2.39},{"x":50,"y":2.22},{"x":69,"y":2.33},{"x":79,"y":2.33},{"x":73,"y":2.22},{"x":77,"y":2.14},{"x":83,"y":2.14},{"x":76,"y":1.8},{"x":112,"y":3.41},{"x":98,"y":3.27},{"x":105,"y":3.24},{"x":109,"y":3.24},{"x":99,"y":2.99},{"x":106,"y":2.95},{"x":112,"y":2.95}]},"mark":{"type":"point"}},
{"data":{"values":[{"x":10,"x2":46,"y":3.114},{"x":72,"x2":108,"y":3.59},{"x":66,"x2":115,"y":-0.682}]},"mark":{"type":"rule","strokeWidth":1.2},"encoding":{"x2":{"field":"x2"}}},
{"data":{"values":[{"x":28,"y":3.114,"t":"****"},{"x":90,"y":3.59,"t":"****"}]},"mark":{"type":"text","fontSize":15,"fontWeight":"bold","dy":-2},"encoding":{"text":{"field":"t"}}},
{"data":{"values":[{"x":87,"y":-0.955,"t":"+PE"}]},"mark":{"type":"text","fontSize":11},"encoding":{"text":{"field":"t"}}},
{"data":{"values":[{"x":61,"y":4.568,"t":"Nppb"}]},"mark":{"type":"text","fontStyle":"italic","fontSize":13},"encoding":{"text":{"field":"t"}}}
]},
{"width":151,"height":188,"encoding":{"x":{"field":"x","type":"quantitative","scale":{"domain":[0,151],"nice":false},"axis":{"title":null,"values":[20,48,76,109],"labelExpr":"indexof([20,76],datum.value)>=0?'Scr':'siSik3'","offset":-41,"ticks":false,"labelPadding":6,"labelFontSize":10.5}},"y":{"field":"y","type":"quantitative","scale":{"domain":[-2.796,10.046],"nice":false},"axis":{"values":[0,2,4,6,8],"title":null}}},
"layer":[
{"data":{"name":"e3b"},"mark":{"type":"bar","orient":"vertical","size":19},"encoding":{"color":{"field":"g","type":"nominal","scale":{"domain":["ctrl","si"],"range":["#6f7271","#ed1f27"]},"legend":null}}},
{"data":{"values":[{"x":0,"x2":121,"y":0,"y2":0},{"x":0,"x2":0,"y":0,"y2":8},{"x":21,"x2":21,"y":0,"y2":-0.2},{"x":49,"x2":49,"y":0,"y2":-0.2},{"x":76,"x2":76,"y":0,"y2":-0.2},{"x":102,"x2":102,"y":0,"y2":-0.2}]},"mark":{"type":"rule","strokeWidth":2},"encoding":{"x2":{"field":"x2"},"y2":{"field":"y2"}}},
{"data":{"name":"e3b"},"mark":{"type":"errorbar","ticks":{"size":13,"color":"#111"},"rule":{"color":"#111"}},"encoding":{"yError":{"field":"e"}}},
{"data":{"values":[{"x":16,"y":0.8},{"x":19,"y":0.8},{"x":22,"y":0.75},{"x":26,"y":0.7},{"x":28,"y":0.7},{"x":42,"y":3.36},{"x":54,"y":3.66},{"x":48,"y":3.2},{"x":43,"y":3.09},{"x":50,"y":2.91},{"x":55,"y":2.64},{"x":69,"y":1.5},{"x":73,"y":1.55},{"x":77,"y":1.61},{"x":80,"y":1.43},{"x":83,"y":1.34},{"x":107,"y":7.52},{"x":98,"y":7.3},{"x":98,"y":6.5},{"x":107,"y":6.05},{"x":103,"y":5.36},{"x":102,"y":4.68}]},"mark":{"type":"point"}},
{"data":{"values":[{"x":21,"x2":49,"y":4.25},{"x":75,"x2":103,"y":7.98},{"x":70,"x2":119,"y":-1.364}]},"mark":{"type":"rule","strokeWidth":1.2},"encoding":{"x2":{"field":"x2"}}},
{"data":{"values":[{"x":35,"y":4.25,"t":"****"},{"x":89,"y":7.98,"t":"****"}]},"mark":{"type":"text","fontSize":15,"fontWeight":"bold","dy":-2},"encoding":{"text":{"field":"t"}}},
{"data":{"values":[{"x":91,"y":-1.91,"t":"+PE"}]},"mark":{"type":"text","fontSize":11},"encoding":{"text":{"field":"t"}}},
{"data":{"values":[{"x":61,"y":9.14,"t":"Ctgf"}]},"mark":{"type":"text","fontStyle":"italic","fontSize":13},"encoding":{"text":{"field":"t"}}}
]},
{"width":125,"height":188,"encoding":{"x":{"field":"x","type":"quantitative","scale":{"domain":[0,125],"nice":false},"axis":{"title":null,"values":[16,44,74,105],"labelExpr":"indexof([16,74],datum.value)>=0?'Scr':'siSik3'","offset":-41,"ticks":false,"labelPadding":6,"labelFontSize":10.5}},"y":{"field":"y","type":"quantitative","scale":{"domain":[-6.99,25.115],"nice":false},"axis":{"values":[0,5,10,15,20],"title":null}}},
"layer":[
{"data":{"name":"e4b"},"mark":{"type":"bar","orient":"vertical","size":19},"encoding":{"color":{"field":"g","type":"nominal","scale":{"domain":["ctrl","si"],"range":["#6f7271","#ed1f27"]},"legend":null}}},
{"data":{"values":[{"x":0,"x2":117,"y":0,"y2":0},{"x":0,"x2":0,"y":0,"y2":20},{"x":18,"x2":18,"y":0,"y2":-0.5},{"x":45,"x2":45,"y":0,"y2":-0.5},{"x":72,"x2":72,"y":0,"y2":-0.5},{"x":99,"x2":99,"y":0,"y2":-0.5}]},"mark":{"type":"rule","strokeWidth":2},"encoding":{"x2":{"field":"x2"},"y2":{"field":"y2"}}},
{"data":{"name":"e4b"},"mark":{"type":"errorbar","ticks":{"size":13,"color":"#111"},"rule":{"color":"#111"}},"encoding":{"yError":{"field":"e"}}},
{"data":{"values":[{"x":12,"y":1.6},{"x":20,"y":1.7},{"x":16,"y":1.02},{"x":11,"y":0.45},{"x":20,"y":0.62},{"x":25,"y":0.62},{"x":41,"y":3.07},{"x":52,"y":3.47},{"x":44,"y":2.9},{"x":48,"y":2.78},{"x":52,"y":2.33},{"x":39,"y":2.44},{"x":70,"y":3.69},{"x":79,"y":3.47},{"x":74,"y":3.35},{"x":65,"y":1.76},{"x":79,"y":1.76},{"x":67,"y":2.9},{"x":99,"y":15.5},{"x":99,"y":13.07},{"x":92,"y":6.3},{"x":92,"y":5.34},{"x":99,"y":5.45},{"x":105,"y":5.45}]},"mark":{"type":"point"}},
{"data":{"values":[{"x":13,"x2":49,"y":6.02},{"x":71,"x2":99,"y":16.93},{"x":66,"x2":115,"y":-3.41}]},"mark":{"type":"rule","strokeWidth":1.2},"encoding":{"x2":{"field":"x2"}}},
{"data":{"values":[{"x":85,"y":16.93,"t":"**"}]},"mark":{"type":"text","fontSize":15,"fontWeight":"bold","dy":-2},"encoding":{"text":{"field":"t"}}},
{"data":{"values":[{"x":30,"y":6.02,"t":"NS"}]},"mark":{"type":"text","dy":-9},"encoding":{"text":{"field":"t"}}},
{"data":{"values":[{"x":88,"y":-4.774,"t":"+PE"}]},"mark":{"type":"text","fontSize":11},"encoding":{"text":{"field":"t"}}},
{"data":{"values":[{"x":55,"y":22.85,"t":"Il6"}]},"mark":{"type":"text","fontStyle":"italic","fontSize":13},"encoding":{"text":{"field":"t"}}}
]}
]}
]}
